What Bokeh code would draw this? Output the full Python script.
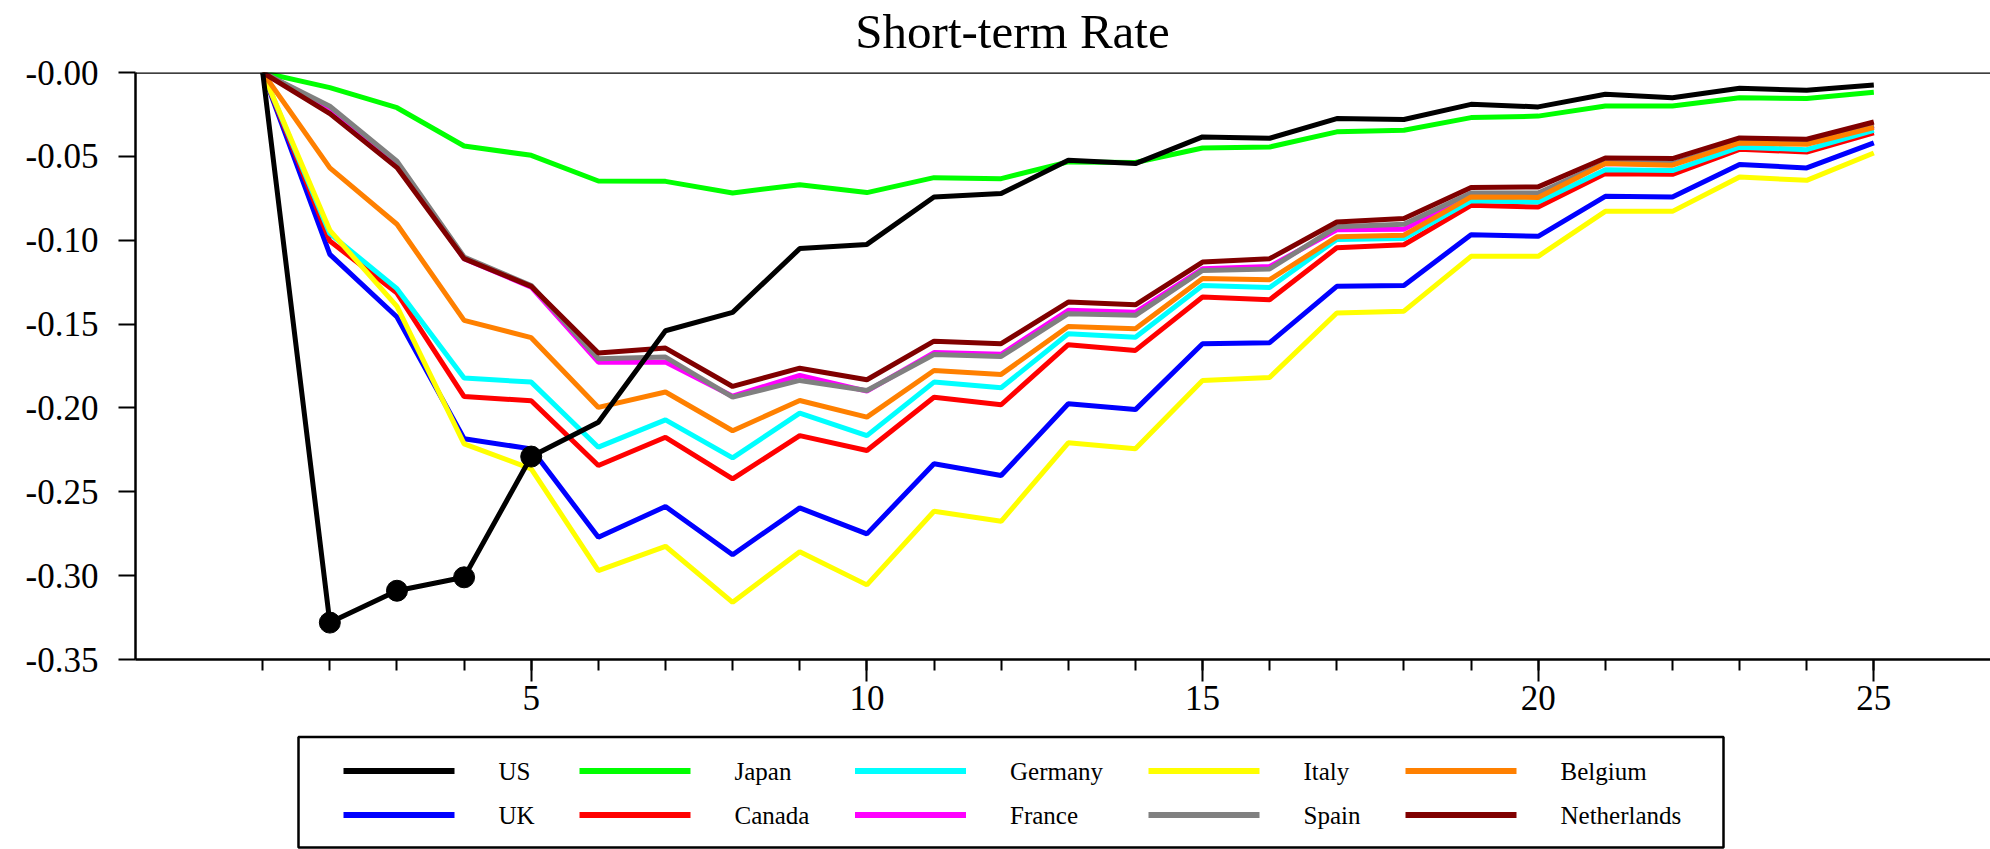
from bokeh.plotting import figure
from bokeh.layouts import column
from bokeh.models import Range1d, FixedTicker, Span
from bokeh.core.properties import value
from bokeh.embed import file_html
from bokeh.resources import INLINE

# ---------------- data ----------------
steps = list(range(1, 26))

us = [0, -0.328, -0.309, -0.301, -0.229, -0.2085, -0.154, -0.143, -0.105, -0.1025,
      -0.0742, -0.0722, -0.0523, -0.0543, -0.0384, -0.0392, -0.0275, -0.028, -0.019,
      -0.0205, -0.013, -0.015, -0.0094, -0.0106, -0.0075]
japan = [0, -0.009, -0.021, -0.0438, -0.0494, -0.0647, -0.0649, -0.0718, -0.0669, -0.0716,
         -0.0627, -0.0633, -0.0533, -0.0537, -0.045, -0.0444, -0.0354, -0.0344, -0.0269,
         -0.026, -0.020, -0.020, -0.0151, -0.0155, -0.0118]
uk = [0, -0.1084, -0.1458, -0.2184, -0.2244, -0.2771, -0.2588, -0.2875, -0.2596, -0.2751,
      -0.2333, -0.2403, -0.1975, -0.2010, -0.1617, -0.1611, -0.1275, -0.127, -0.0967,
      -0.0977, -0.0738, -0.0742, -0.0549, -0.0569, -0.042]
canada = [0, -0.1005, -0.1315, -0.1932, -0.1957, -0.2343, -0.2175, -0.2423, -0.2165, -0.2254,
          -0.1936, -0.1981, -0.1623, -0.1657, -0.1339, -0.1355, -0.1045, -0.1027, -0.0792,
          -0.0802, -0.0603, -0.0607, -0.0458, -0.0474, -0.036]
germany = [0, -0.0961, -0.1289, -0.1822, -0.1846, -0.2234, -0.2071, -0.2298, -0.2031, -0.2165,
           -0.1846, -0.188, -0.1558, -0.1578, -0.127, -0.1282, -0.0995, -0.099, -0.0765,
           -0.0772, -0.058, -0.0585, -0.0445, -0.046, -0.0345]
france = [0, -0.021, -0.054, -0.111, -0.128, -0.1727, -0.1727, -0.193, -0.1806, -0.190,
          -0.167, -0.168, -0.1418, -0.143, -0.117, -0.1157, -0.0938, -0.0935, -0.0722,
          -0.0726, -0.0543, -0.0547, -0.0418, -0.0424, -0.032]
italy = [0, -0.0941, -0.1395, -0.2214, -0.2363, -0.297, -0.2825, -0.3159, -0.2857, -0.3055,
         -0.2616, -0.2676, -0.2208, -0.2244, -0.1836, -0.1818, -0.1434, -0.1423, -0.1096,
         -0.1096, -0.0828, -0.0828, -0.0623, -0.0643, -0.048]
spain = [0, -0.0201, -0.0529, -0.110, -0.127, -0.1707, -0.1697, -0.1936, -0.1836, -0.1896,
         -0.1681, -0.1693, -0.1438, -0.1448, -0.118, -0.1171, -0.092, -0.0905, -0.0718,
         -0.0718, -0.0539, -0.0543, -0.0414, -0.042, -0.0315]
belgium = [0, -0.0569, -0.0905, -0.1478, -0.1581, -0.1997, -0.1905, -0.2136, -0.1956, -0.2055,
           -0.1777, -0.180, -0.1514, -0.1528, -0.1229, -0.1235, -0.098, -0.097, -0.0742,
           -0.0745, -0.0543, -0.0553, -0.042, -0.0428, -0.0328]
netherlands = [0, -0.0245, -0.0567, -0.111, -0.1275, -0.1673, -0.1643, -0.1872, -0.1763, -0.1832,
               -0.1602, -0.1617, -0.1369, -0.1385, -0.113, -0.111, -0.0891, -0.0871, -0.0686,
               -0.0682, -0.051, -0.0513, -0.039, -0.0398, -0.0295]

us_marked_steps = [2, 3, 4, 5]

country_names = ["US", "UK", "Japan", "Canada", "Germany", "France", "Italy", "Spain",
                 "Belgium", "Netherlands"]
country_series = [us, uk, japan, canada, germany, france, italy, spain, belgium, netherlands]
country_colors = ["#000000", "#0000FF", "#00FF00", "#FF0000", "#00FFFF", "#FF00FF",
                  "#FFFF00", "#808080", "#FF8000", "#800000"]

x_major_ticks = [5, 10, 15, 20, 25]
x_minor_ticks = list(range(1, 26))
y_ticks = [0.0, -0.05, -0.10, -0.15, -0.20, -0.25, -0.30, -0.35]
y_tick_labels = ["-0.00", "-0.05", "-0.10", "-0.15", "-0.20", "-0.25", "-0.30", "-0.35"]

chart_title = "Short-term Rate"

FONT = "Liberation Serif"
W = 1990
FRAME_LEFT = 135


def page_panel(height, y_top, y_bottom):
    """A plain panel whose data coordinates are page pixels."""
    f = figure(width=W, height=height, output_backend="svg", toolbar_location=None,
               x_range=Range1d(FRAME_LEFT, W), y_range=Range1d(y_bottom, y_top),
               x_axis_type=None, y_axis_type=None,
               min_border_left=FRAME_LEFT, min_border_right=0, min_border_top=0,
               min_border_bottom=0)
    f.title = None
    f.outline_line_color = None
    f.grid.visible = False
    return f


# ---------------- title panel ----------------
tf = page_panel(50, 0, 50)
tf.text(x=[1012], y=[31], text=[chart_title], text_align="center",
        text_baseline="middle", text_font=value(FONT), text_font_size="49px",
        text_color="black")

# ---------------- main plot ----------------
p = figure(width=W, height=678, output_backend="svg", toolbar_location=None,
           x_range=Range1d(-0.895, 26.738), y_range=Range1d(-0.35, 0.0),
           min_border_left=FRAME_LEFT, min_border_right=0, min_border_top=22,
           min_border_bottom=69)
p.title = None
p.outline_line_color = None
p.grid.visible = False

p.xaxis.ticker = FixedTicker(ticks=x_major_ticks, minor_ticks=x_minor_ticks)
p.yaxis.ticker = FixedTicker(ticks=y_ticks, minor_ticks=[])
p.yaxis.major_label_overrides = dict(zip(y_ticks, y_tick_labels))

for ax in (p.xaxis, p.yaxis):
    ax.axis_line_width = 2.5
    ax.axis_line_color = "black"
    ax.major_tick_line_width = 2
    ax.minor_tick_line_width = 2
    ax.major_tick_line_color = "black"
    ax.major_tick_in = 0
    ax.minor_tick_in = 0
    ax.major_label_text_font = FONT
    ax.major_label_text_font_size = "35px"
    ax.major_label_text_color = "black"

p.xaxis.major_tick_out = 22
p.xaxis.minor_tick_out = 11
p.xaxis.minor_tick_line_color = "black"
p.xaxis.major_label_standoff = 4
p.yaxis.major_tick_out = 17
p.yaxis.minor_tick_line_color = None
p.yaxis.major_label_standoff = 20

p.add_layout(Span(location=0.0, dimension="width", line_color="black", line_width=2.5))

# draw order: others first, US on top
order = list(range(1, len(country_names))) + [0]
for i in order:
    p.line(steps, country_series[i], line_width=5, line_color=country_colors[i])

my = [us[steps.index(s)] for s in us_marked_steps]
p.scatter(us_marked_steps, my, size=21, fill_color="black", line_color="black")

# ---------------- legend panel (page pixel coordinates) ----------------
legend_rows = [["US", "Japan", "Germany", "Italy", "Belgium"],
               ["UK", "Canada", "France", "Spain", "Netherlands"]]
col_x = [343, 579, 854.5, 1148, 1405]
row_y = [770.5, 814.5]
line_len = 111
label_gap = 155

lf = page_panel(121, 728, 849)
lf.quad(left=[298], right=[1723], top=[736.5], bottom=[847], fill_color=None,
        line_color="black", line_width=2.5)

seg_x0, seg_x1, seg_y, seg_c, lab_x, lab_y, lab_t = [], [], [], [], [], [], []
for r, names in enumerate(legend_rows):
    for c, name in enumerate(names):
        color = country_colors[country_names.index(name)]
        seg_x0.append(col_x[c])
        seg_x1.append(col_x[c] + line_len)
        seg_y.append(row_y[r])
        seg_c.append(color)
        lab_x.append(col_x[c] + label_gap)
        lab_y.append(row_y[r])
        lab_t.append(name)

lf.segment(x0=seg_x0, y0=seg_y, x1=seg_x1, y1=seg_y, line_color=seg_c, line_width=6)
lf.text(x=lab_x, y=lab_y, text=lab_t, text_baseline="middle", text_align="left",
        text_font=value(FONT), text_font_size="25px", text_color="black")

layout = column(tf, p, lf, spacing=0)
open("out.html", "w").write(file_html(layout, INLINE))
